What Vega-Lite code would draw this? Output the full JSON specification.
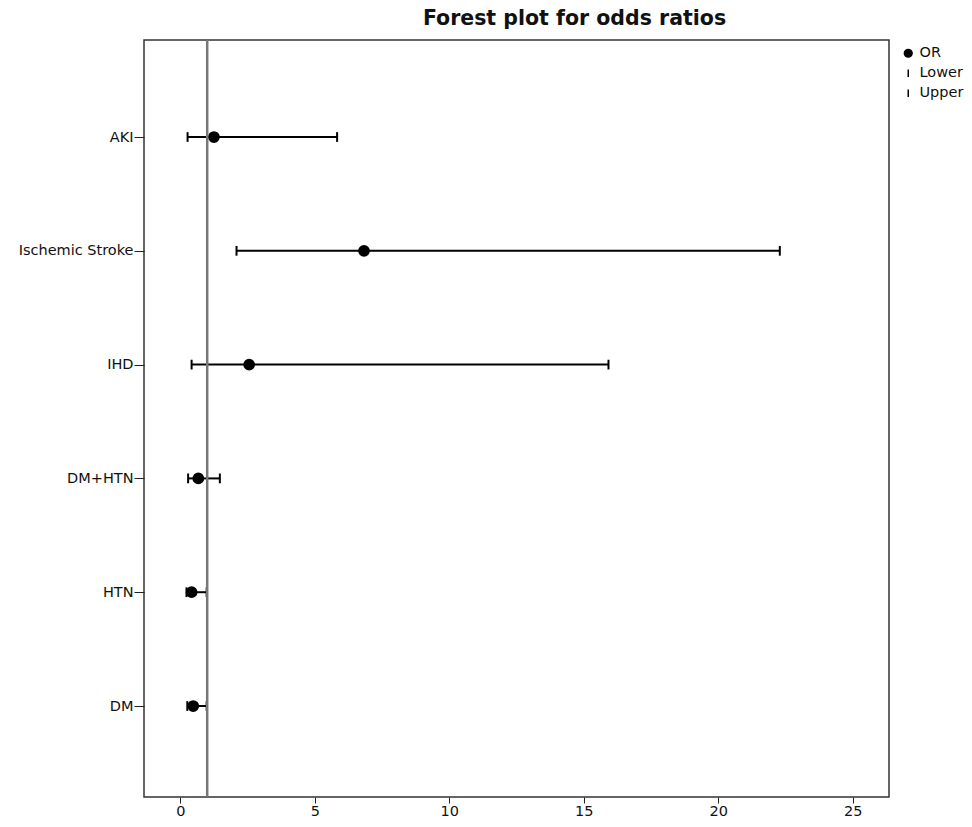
{
  "$schema": "https://vega.github.io/schema/vega-lite/v6.json",
  "autosize": {"type": "none"},
  "padding": {"left": 144, "top": 40, "right": 83, "bottom": 30},
  "width": 745,
  "height": 757,
  "background": "white",
  "config": {
    "font": "DejaVu Sans",
    "view": {"stroke": "#333333", "strokeWidth": 1.5},
    "axis": {"labelFont": "DejaVu Sans", "labelFontSize": 14.5, "labelColor": "#111111", "tickColor": "#222222", "domain": false, "grid": false}
  },
  "title": {
    "text": "Forest plot for odds ratios",
    "font": "DejaVu Sans",
    "fontSize": 20.5,
    "fontWeight": "bold",
    "color": "#111111",
    "anchor": "middle",
    "dx": 58,
    "offset": 9
  },
  "data": {
    "values": [
      {"Outcome": "AKI", "OR": 1.25, "Lower": 0.27, "Upper": 5.83},
      {"Outcome": "Ischemic Stroke", "OR": 6.83, "Lower": 2.09, "Upper": 22.29},
      {"Outcome": "IHD", "OR": 2.56, "Lower": 0.42, "Upper": 15.92},
      {"Outcome": "DM+HTN", "OR": 0.67, "Lower": 0.29, "Upper": 1.47},
      {"Outcome": "HTN", "OR": 0.42, "Lower": 0.23, "Upper": 0.98},
      {"Outcome": "DM", "OR": 0.48, "Lower": 0.26, "Upper": 0.98}
    ]
  },
  "encoding": {
    "y": {
      "field": "Outcome", "type": "nominal", "sort": null,
      "scale": {"type": "point", "padding": 0.826, "align": 0.516},
      "axis": {"title": null, "tickSize": 10, "labelPadding": 1}
    }
  },
  "layer": [
    {
      "mark": {"type": "rule", "color": "black", "strokeWidth": 2},
      "encoding": {
        "x": {
          "field": "Lower", "type": "quantitative",
          "scale": {"domain": [-1.35, 26.35], "nice": false, "zero": false},
          "axis": {"title": null, "values": [0, 5, 10, 15, 20, 25], "tickSize": 6, "labelPadding": 1}
        },
        "x2": {"field": "Upper"}
      }
    },
    {
      "transform": [{"fold": ["OR", "Lower", "Upper"], "as": ["Stat", "Value"]}],
      "mark": {"type": "point", "filled": true, "fill": "black", "stroke": "black", "strokeWidth": 2, "size": 95, "opacity": 1},
      "encoding": {
        "x": {"field": "Value", "type": "quantitative"},
        "shape": {
          "field": "Stat", "type": "nominal",
          "scale": {"domain": ["OR", "Lower", "Upper"], "range": ["circle", "M0,-1L0,1", "M0,-1L0,1"]},
          "legend": {
            "title": null,
            "orient": "none",
            "legendX": 757,
            "legendY": 6,
            "labelFont": "DejaVu Sans",
            "labelFontSize": 14.5,
            "labelColor": "#111111",
            "rowPadding": 4,
            "labelOffset": 4,
            "symbolSize": 60,
            "encode": {
              "symbols": {
                "update": {
                  "fill": {"value": "black"},
                  "stroke": {"signal": "datum.value === 'OR' ? 'black' : '#777777'"},
                  "strokeWidth": {"value": 1.5}
                }
              }
            }
          }
        }
      }
    },
    {
      "data": {"values": [{"ref": 1}]},
      "mark": {"type": "rule", "color": "#777777", "strokeWidth": 2.5},
      "encoding": {"x": {"field": "ref", "type": "quantitative"}, "y": null}
    }
  ]
}
